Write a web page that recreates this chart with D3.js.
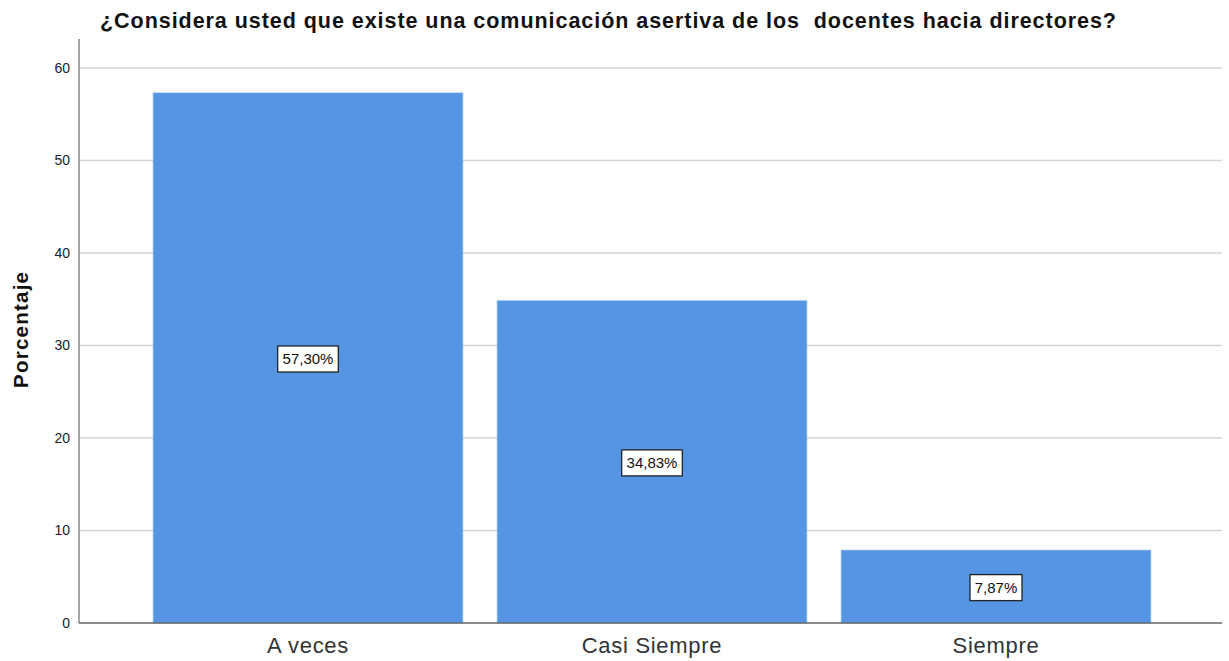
<!DOCTYPE html>
<html lang="es">
<head>
<meta charset="UTF-8">
<title>Comunicación asertiva</title>
<script src="https://d3js.org/d3.v7.min.js"></script>
<style>
  body { margin: 0; background: #fff; font-family: "Liberation Sans", Arial, sans-serif; }
</style>
</head>
<body>
<script>
// data
const categories = ['A veces', 'Casi Siempre', 'Siempre'];
const values = [57.30, 34.83, 7.87];
const labels = ['57,30%', '34,83%', '7,87%'];
const yTicks = [0, 10, 20, 30, 40, 50, 60];

const w = 1229, h = 661;
const mLeft = 79, mRight = 1222, mTop = 39, mBottom = 623;

const svg = d3.select('body').append('svg')
  .attr('width', w)
  .attr('height', h);

// scales
const y = d3.scaleLinear().domain([0, 60]).range([mBottom, 68]);
const x = d3.scaleBand()
  .domain(categories)
  .range([136, 1168])
  .paddingInner(0.1)
  .paddingOuter(0.05);

// gridlines
svg.append('g')
  .selectAll('line')
  .data(yTicks.slice(1))
  .enter().append('line')
  .attr('x1', mLeft).attr('x2', mRight)
  .attr('y1', d => y(d)).attr('y2', d => y(d))
  .attr('stroke', '#d4d4d4')
  .attr('stroke-width', 1.3);

// y axis
const yAxis = d3.axisLeft(y).tickValues(yTicks).tickSize(0).tickPadding(9);
const gy = svg.append('g')
  .attr('transform', 'translate(' + mLeft + ',0)')
  .call(yAxis);
gy.select('.domain').remove();
gy.selectAll('text')
  .attr('font-family', '"Liberation Sans", Arial, sans-serif')
  .attr('font-size', 14)
  .attr('fill', '#222');
svg.append('line')
  .attr('x1', mLeft).attr('x2', mLeft)
  .attr('y1', mTop).attr('y2', mBottom)
  .attr('stroke', '#777').attr('stroke-width', 1.3);

// bars
svg.append('g')
  .selectAll('rect')
  .data(values)
  .enter().append('rect')
  .attr('x', (d, i) => x(categories[i]))
  .attr('y', d => y(d))
  .attr('width', x.bandwidth())
  .attr('height', d => mBottom - y(d))
  .attr('fill', '#5595e3')
  .attr('stroke', '#7aaeea')
  .attr('stroke-width', 0.8);

// x axis
const xAxis = d3.axisBottom(x).tickSize(0).tickPadding(14);
const gx = svg.append('g')
  .attr('transform', 'translate(0,' + mBottom + ')')
  .call(xAxis);
gx.select('.domain').remove();
gx.selectAll('text')
  .attr('font-family', '"Liberation Sans", Arial, sans-serif')
  .attr('font-size', 22)
  .attr('letter-spacing', 0.7)
  .attr('fill', '#333');
svg.append('line')
  .attr('x1', mLeft).attr('x2', mRight)
  .attr('y1', mBottom).attr('y2', mBottom)
  .attr('stroke', '#666').attr('stroke-width', 1.3);

// value labels
const lab = svg.append('g')
  .selectAll('g')
  .data(values)
  .enter().append('g')
  .attr('transform', (d, i) => 'translate(' + (x(categories[i]) + x.bandwidth() / 2) + ',' + (y(d / 2) + 1) + ')');
lab.append('rect')
  .attr('x', (d, i) => -(labels[i].length * 8.6 + 9) / 2)
  .attr('y', -13)
  .attr('width', (d, i) => labels[i].length * 8.6 + 9)
  .attr('height', 26)
  .attr('fill', '#fff')
  .attr('stroke', '#222')
  .attr('stroke-width', 1.3);
lab.append('text')
  .attr('text-anchor', 'middle')
  .attr('dy', '0.36em')
  .attr('font-size', 15)
  .attr('fill', '#111')
  .text((d, i) => labels[i]);

// title
svg.append('text')
  .attr('x', 100)
  .attr('y', 28)
  .attr('font-size', 21.5)
  .attr('font-weight', 'bold')
  .attr('fill', '#111')
  .attr('textLength', 1016)
  .attr('lengthAdjust', 'spacing')
  .attr('xml:space', 'preserve')
  .text('¿Considera usted que existe una comunicación asertiva de los  docentes hacia directores?');

// y title
svg.append('text')
  .attr('transform', 'translate(28,388) rotate(-90)')
  .attr('font-size', 20.5)
  .attr('font-weight', 'bold')
  .attr('fill', '#111')
  .attr('textLength', 116)
  .attr('lengthAdjust', 'spacing')
  .text('Porcentaje');
</script>
</body>
</html>
